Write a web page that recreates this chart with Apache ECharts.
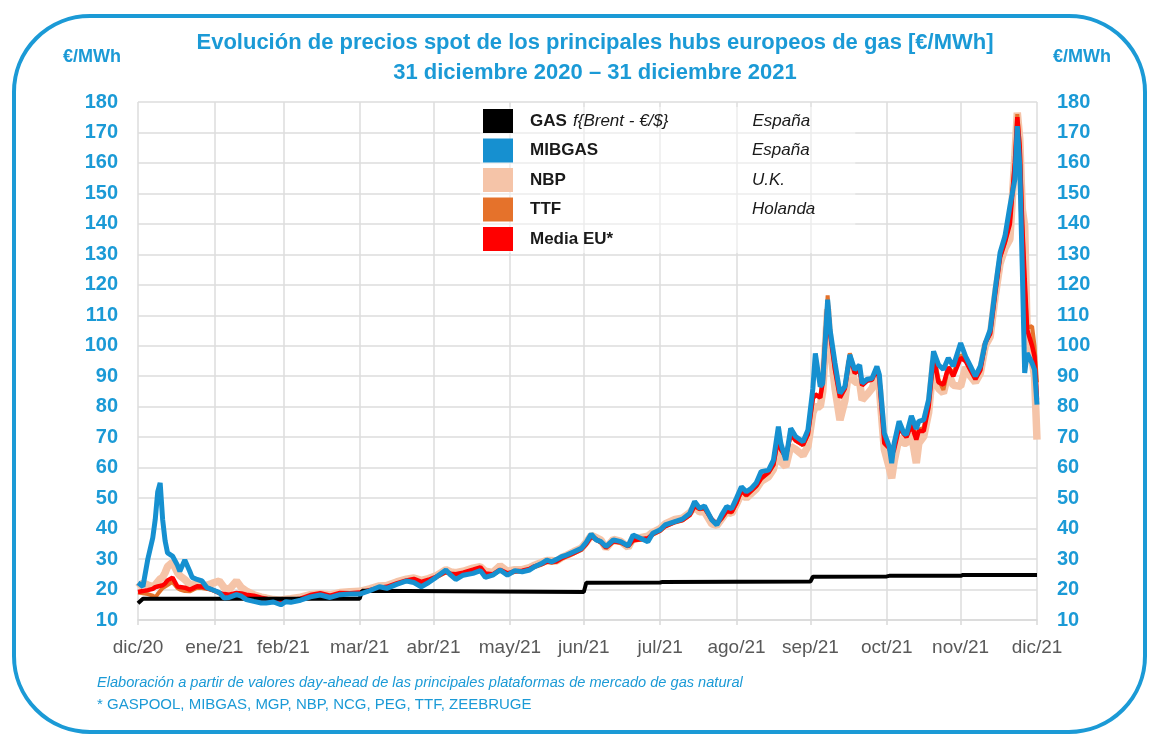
<!DOCTYPE html>
<html><head><meta charset="utf-8">
<script src="https://cdn.jsdelivr.net/npm/echarts@6/dist/echarts.min.js"></script>
<style>html,body{margin:0;padding:0;background:#fff}#c{width:1150px;height:734px}</style>
</head><body><div id="c"></div>
<script>
// ---- DATA ----
const dates = ['2020-12-31','2021-01-02','2021-01-04','2021-01-06','2021-01-07','2021-01-08','2021-01-09','2021-01-10','2021-01-11','2021-01-12','2021-01-14','2021-01-16','2021-01-17','2021-01-19','2021-01-21','2021-01-22','2021-01-24','2021-01-26','2021-01-28','2021-01-30',
'2021-02-02','2021-02-04','2021-02-06','2021-02-09','2021-02-11','2021-02-13','2021-02-16','2021-02-19','2021-02-21','2021-02-24','2021-02-27',
'2021-03-01','2021-03-03','2021-03-07','2021-03-11','2021-03-15','2021-03-19','2021-03-23','2021-03-27','2021-03-31',
'2021-04-04','2021-04-08','2021-04-11','2021-04-15','2021-04-19','2021-04-22','2021-04-25','2021-04-28',
'2021-05-01','2021-05-05','2021-05-07','2021-05-09','2021-05-12','2021-05-16','2021-05-19','2021-05-21','2021-05-24','2021-05-27','2021-05-30',
'2021-06-02','2021-06-05','2021-06-08','2021-06-10','2021-06-13','2021-06-15','2021-06-17','2021-06-19','2021-06-21','2021-06-23','2021-06-26','2021-06-29',
'2021-07-01','2021-07-03','2021-07-05','2021-07-07','2021-07-09','2021-07-12','2021-07-15','2021-07-18','2021-07-20','2021-07-23','2021-07-26','2021-07-28','2021-07-31',
'2021-08-02','2021-08-06','2021-08-09','2021-08-12','2021-08-14','2021-08-16','2021-08-18','2021-08-21','2021-08-23','2021-08-25','2021-08-27','2021-08-29','2021-08-31',
'2021-09-02','2021-09-04','2021-09-06','2021-09-08','2021-09-10','2021-09-13','2021-09-15','2021-09-17','2021-09-18','2021-09-20','2021-09-22','2021-09-24','2021-09-27','2021-09-29',
'2021-10-01','2021-10-02','2021-10-04','2021-10-05','2021-10-07','2021-10-08','2021-10-10','2021-10-12','2021-10-14','2021-10-16','2021-10-18','2021-10-20','2021-10-21','2021-10-23','2021-10-25','2021-10-27','2021-10-28','2021-10-30',
'2021-11-01','2021-11-02','2021-11-03','2021-11-05','2021-11-07','2021-11-08','2021-11-10','2021-11-12','2021-11-13','2021-11-15','2021-11-17','2021-11-19','2021-11-21','2021-11-23','2021-11-25','2021-11-27','2021-11-30',
'2021-12-02','2021-12-04','2021-12-06','2021-12-08','2021-12-10','2021-12-12','2021-12-14','2021-12-16','2021-12-18','2021-12-20','2021-12-22','2021-12-23','2021-12-24','2021-12-25','2021-12-26','2021-12-27','2021-12-29','2021-12-30','2021-12-31'];

const mibgas = [22.2,21,30,37,43,52,55,43,36,32,31,28,26,29.7,26,24,23.3,22.8,20.6,20,
19,17.2,17.4,18.3,17.8,16.7,16.1,15.6,15.6,15.9,15,
16,15.8,16.5,17.6,18.2,17.4,18.3,18.5,18.5,
19.6,20.9,20.4,21.7,22.8,22.3,20.9,22.3,
24,26.4,24.7,23.3,24.7,25.3,26.2,24,24.7,26.4,24.7,
26.2,25.8,26.4,27.5,28.6,29.7,29.1,29.9,30.8,31.3,32.4,33.5,
35.5,38.2,36.3,35.7,34.1,36.3,35.7,34.3,37.9,36.8,35.7,38.5,39.6,
41.2,42.3,43.1,45,48.9,46.7,47.4,42.8,41.2,44.5,47.2,46.5,50,
53.7,52.1,53.2,55,58.7,59.2,62.5,73.5,68,62.5,72.9,70.2,68.5,72.4,
86,97.5,86.6,87.7,115.1,105.2,94.3,84.4,86.6,97,92.1,93.7,87.7,89,89.3,93.2,90.5,71.3,
67,61.5,68,75.2,71.3,70.8,77,72.7,75.2,75.7,82.3,98.2,93.8,92.2,96,93.3,100.9,
96.5,93.3,90,93.3,100.9,105.3,118.4,130.5,136,145.8,154.6,172.1,159,126.1,91.1,97.6,94.3,92.2,80.7];

const mediaEU = [19.2,19.5,19.8,20.2,20.8,21,21.2,21.4,22,23,23.9,21,20.8,20.6,20,20.3,21.1,21,20.5,20,
18.9,18.5,18.3,18.9,18.7,18.3,18,17.3,17,16.3,16,
16.4,16.6,17,18.2,18.8,18,18.9,18.8,19,
19.8,20.6,20.9,22,23,23.5,22.5,23.2,
24.2,25.8,25.2,25,25.5,26.5,27.3,25.3,25,26.5,25.3,
26,26.2,26.8,27.6,28.4,29.2,29,29.3,30.3,31,32,33.2,
35,37.5,36.5,35.5,33.8,35.8,35.5,34.3,36.2,36.5,36.8,38.2,39.4,
40.8,42.2,42.8,44.5,47.5,46.5,46.8,43,41.6,43.5,45.8,45.5,48.5,
52.5,51,52.5,54,56.5,58.5,61,70.2,66,63.6,71,69,67.5,71,
82.8,84,83,88,114,104,92,83,86,96.5,91,92,87,88.5,88.8,92.5,89,68,
66.4,64,66,73,71,70,74,69.2,72,72,80,96.5,88,87.2,93,90,96,
95,92,89,92,101,104,117,129,134,140,160,175,165,140,122,105.3,100,96.5,82.3];

const nbp = [20.6,22.2,21.5,21,21.5,22.5,23.5,24,25.5,27.5,28.9,25.6,24.5,23.3,21.7,21.7,21.7,21.1,21.4,22,
22.8,20.6,20,22.8,20.6,19.5,18.3,17.5,17.2,16.7,16.5,
16.8,17,17.5,18.3,18.6,18.2,19,19.3,19.4,
20.2,21.2,21.3,22.5,23.4,23.8,23,23.6,
24.5,26.5,25.8,25.5,26,27,27.5,26,25.6,27.8,26,
26.5,26.5,27.2,28,29,29.5,29.5,29.4,30.5,31.2,32.5,33.6,
35.5,37.8,37,36.2,33.5,36.5,35.8,33.8,36.8,37,37.5,38.8,40,
41.5,43,43.4,45.2,47.2,45.5,45.5,41.5,41,43.2,45.5,45,48,
51.5,50,51.5,53,55.5,57,59.5,66,62,60.3,67,66,64,67,
78,80,80,85,112,100,86,75.6,82,95,88,88,82.2,84,86,90,86,66,
60,56.5,62,70,68,68,71,61.5,68,70.2,78,95,86,84.5,91,87,86.7,
93,90,88,91,100,103,116,127,132,135,162,176.5,168,145,139.3,104.2,95,90,69.2];

const ttf = [19,18.8,18.5,18,17.4,18.5,19.5,20.5,21,21.5,22.5,20.5,20,19.5,19.4,19.8,20.6,20.5,20.2,19.8,
18.8,18.3,18,18.6,18.4,18,17.6,17,16.7,16.1,15.8,
16.2,16.4,16.8,17.8,18.5,17.8,18.6,18.6,18.8,
19.6,20.5,20.7,21.8,22.8,23.2,22.2,23,
24,25.6,25,24.8,25.3,26.2,27,25,24.8,26.2,25,
25.8,26,26.6,27.4,28.2,29,28.8,29.1,30.1,30.8,31.8,33,
34.8,37.2,36.3,35.3,33.6,35.6,35.3,34.1,36,36.3,36.6,38,39.2,
40.6,42,42.6,44.3,47.3,46.3,46.6,42.8,41.4,43.3,45.6,45.3,48.3,
52.3,50.8,52.3,53.8,56.3,58.3,60.8,70,65.8,63.4,70.8,68.8,67.3,70.8,
82.5,84,83,88,116.5,104.5,92,83.5,86,97.5,91.5,92.5,87,88.8,89,92.8,89.5,69,
67,63.5,66.5,73.5,71,70.5,74.5,70,72.5,73,80.5,97,89,85.5,93,91,97,
95.5,92.5,89.5,92,101,104,117,129,134,141,160,176,166,141,120,106,106.4,100,88];

const gasDates = ['2020-12-31','2021-01-02','2021-03-31','2021-04-01','2021-06-30','2021-07-01','2021-07-31','2021-08-01','2021-09-30','2021-10-01','2021-10-31','2021-11-01','2021-11-30','2021-12-01','2021-12-31'];
const gasBrent = [15.5,17,17,19.6,19.2,22.2,22.3,22.5,22.6,24.2,24.3,24.5,24.5,24.8,24.8];

const tickDates = ['2020-12-31','2021-01-31','2021-02-28','2021-03-31','2021-04-30','2021-05-31','2021-06-30','2021-07-31','2021-08-31','2021-09-30','2021-10-31','2021-11-30','2021-12-31'];
const tickLabels = ['dic/20','ene/21','feb/21','mar/21','abr/21','may/21','jun/21','jul/21','ago/21','sep/21','oct/21','nov/21','dic/21'];

const Y_MIN = 10, Y_MAX = 180, Y_STEP = 10;

// ---- CHART ----
// dates -> day number counted from the first tick date (UTC, no DST issues)
const DAY = 86400000;
const utc = s => { const [y, m, d] = s.split('-').map(Number); return Date.UTC(y, m - 1, d); };
const T0 = utc(tickDates[0]);
const dayNum = s => Math.round((utc(s) - T0) / DAY);
const tickDays = tickDates.map(dayNum);
const pairs = (ds, vs) => ds.map((d, i) => [dayNum(d), vs[i]]);

const BLUE = '#1B9AD6';
const FONT = "'Liberation Sans', Arial, sans-serif";

const chart = echarts.init(document.getElementById('c'), null, { renderer: 'canvas' });

const xLabel = v => {
  const i = tickDays.indexOf(Math.round(v));
  return i >= 0 ? tickLabels[i] : '';
};

const yAxisBase = {
  type: 'value', min: Y_MIN, max: Y_MAX, interval: Y_STEP,
  axisLine: { show: false }, axisTick: { show: false },
  axisLabel: { color: BLUE, fontSize: 20, fontWeight: 'bold', fontFamily: FONT, margin: 20 },
  name: '€/MWh', nameLocation: 'end', nameGap: 36,
};

const legendNames = ['GAS', 'MIBGAS', 'NBP', 'TTF', 'Media EU*'];
const legendCountry = { 'GAS': 'España', 'MIBGAS': 'España', 'NBP': 'U.K.', 'TTF': 'Holanda', 'Media EU*': '' };

chart.setOption({
  animation: false,
  backgroundColor: '#fff',
  title: {
    text: 'Evolución de precios spot de los principales hubs europeos de gas [€/MWh]',
    subtext: '31 diciembre 2020 – 31 diciembre 2021',
    left: 590, top: 27, textAlign: 'center', itemGap: 8,
    textStyle: { color: BLUE, fontSize: 22, fontWeight: 'bold', fontFamily: FONT },
    subtextStyle: { color: BLUE, fontSize: 22, fontWeight: 'bold', fontFamily: FONT }
  },
  grid: { left: 138, right: 113, top: 102, bottom: 114, containLabel: false },
  xAxis: {
    type: 'value', min: tickDays[0], max: tickDays[tickDays.length - 1],
    axisLine: { show: true, lineStyle: { color: '#d9d9d9', width: 1.5 } },
    axisTick: { show: true, length: 5, customValues: tickDays, lineStyle: { color: '#d9d9d9', width: 1.5 } },
    axisLabel: { customValues: tickDays, formatter: xLabel, color: '#595959', fontSize: 19, fontFamily: FONT, margin: 18, showMinLabel: true, showMaxLabel: true, hideOverlap: false },
    splitLine: { show: true, lineStyle: { color: '#dcdcdc', width: 1.5 } }
  },
  yAxis: [
    Object.assign({}, yAxisBase, {
      position: 'left',
      splitLine: { show: true, lineStyle: { color: '#dcdcdc', width: 1.5 } },
      nameTextStyle: { color: BLUE, fontSize: 18, fontWeight: 'bold', fontFamily: FONT, align: 'right', padding: [0, 17, 0, 0] }
    }),
    Object.assign({}, yAxisBase, {
      position: 'right',
      splitLine: { show: false },
      nameTextStyle: { color: BLUE, fontSize: 18, fontWeight: 'bold', fontFamily: FONT, align: 'left', padding: [0, 0, 0, 16] }
    })
  ],
  legend: {
    orient: 'vertical', left: 480, top: 107,
    data: legendNames, icon: 'rect', itemWidth: 30, itemHeight: 24, itemGap: 5.5,
    backgroundColor: 'rgba(255,255,255,0.45)', padding: [2, 40, 2, 3],
    selectedMode: false,
    formatter: name => {
      const c = legendCountry[name];
      if (name === 'GAS') return '{s| }{g|GAS }{f|f{Brent - €/$}}{p| }{c|' + c + '}';
      return '{s| }{n|' + name + '}' + (c ? '{c|' + c + '}' : '');
    },
    textStyle: {
      fontFamily: FONT, fontSize: 17, fontStyle: 'italic', color: '#1a1a1a',
      rich: {
        s: { width: 12 },
        g: { fontWeight: 'bold', fontStyle: 'normal', fontSize: 17, fontFamily: FONT, color: '#1a1a1a', width: 43 },
        f: { fontStyle: 'italic', fontSize: 17, fontFamily: FONT, color: '#1a1a1a' },
        p: { width: 84 },
        n: { fontWeight: 'bold', fontStyle: 'normal', fontSize: 17, fontFamily: FONT, color: '#1a1a1a', width: 222 },
        c: { fontStyle: 'italic', fontSize: 17, fontFamily: FONT, color: '#1a1a1a' }
      }
    }
  },
  graphic: [
    { type: 'rect', shape: { x: 14, y: 16, width: 1131, height: 716, r: 76 }, style: { fill: 'none', stroke: BLUE, lineWidth: 4 }, silent: true, z: 100 },
    { type: 'text', left: 97, top: 675, style: { text: 'Elaboración a partir de valores day-ahead de las principales plataformas de mercado de gas natural', fill: BLUE, font: 'italic 14.6px ' + FONT } },
    { type: 'text', left: 97, top: 697, style: { text: '* GASPOOL, MIBGAS, MGP, NBP, NCG, PEG, TTF, ZEEBRUGE', fill: BLUE, font: '15px ' + FONT } }
  ],
  series: [
    { name: 'NBP', type: 'line', data: pairs(dates, nbp), showSymbol: false, color: '#F5C4A8', lineStyle: { width: 7.5, color: '#F5C4A8' }, z: 2 },
    { name: 'TTF', type: 'line', data: pairs(dates, ttf), showSymbol: false, color: '#E5722B', lineStyle: { width: 4, color: '#E5722B' }, z: 3 },
    { name: 'Media EU*', type: 'line', data: pairs(dates, mediaEU), showSymbol: false, color: '#FF0000', lineStyle: { width: 4.5, color: '#FF0000' }, z: 4 },
    { name: 'GAS', type: 'line', data: pairs(gasDates, gasBrent), showSymbol: false, color: '#000000', lineStyle: { width: 4, color: '#000000' }, z: 5 },
    { name: 'MIBGAS', type: 'line', data: pairs(dates, mibgas), showSymbol: false, color: '#1690D0', lineStyle: { width: 5, color: '#1690D0' }, z: 6 }
  ]
});
</script></body></html>
